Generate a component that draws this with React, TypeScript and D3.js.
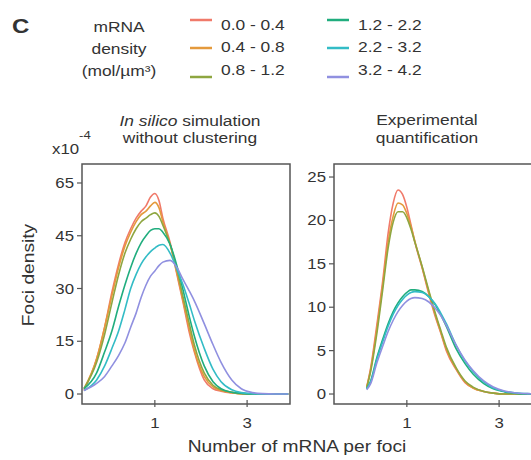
import * as d3 from "d3";

// x grid (number of mRNA per foci) for each panel
const xSim = [0.43, 0.5, 0.55, 0.6, 0.65, 0.7, 0.75, 0.8, 0.85, 0.9, 0.95, 1.0, 1.05, 1.1, 1.2, 1.3, 1.4, 1.5, 1.6, 1.8, 2.0, 2.2, 2.5, 2.8, 3.2, 3.6, 4.2, 4.9];
const xExp = [0.62, 0.65, 0.7, 0.75, 0.8, 0.85, 0.9, 0.95, 1.0, 1.05, 1.1, 1.2, 1.3, 1.4, 1.5, 1.6, 1.8, 2.0, 2.2, 2.5, 2.8, 3.2, 3.6, 4.2, 5.0];

const categories = ["0.0 - 0.4", "0.4 - 0.8", "0.8 - 1.2", "1.2 - 2.2", "2.2 - 3.2", "3.2 - 4.2"];
const colors = ["#f07a6a", "#e49a3c", "#8ea640", "#20ad7e", "#33bcc6", "#9090e0"];

// in silico simulation, foci density x10^-4
const simValues = [
  [1, 10, 19, 29, 37, 43, 47, 50, 52, 53.5, 56, 57, 55, 50, 43, 34, 26, 18, 12, 4, 1.5, 0.8, 0.3, 0.1, 0, 0, 0, 0],
  [1.5, 10, 19, 28, 36, 42, 46, 49, 51, 52, 53.5, 54.5, 53, 49, 42.5, 34.5, 26.5, 19, 12.5, 5, 2, 1, 0.4, 0.1, 0, 0, 0, 0],
  [1.5, 9, 17, 26, 34, 40, 44, 47, 49, 50, 51, 51.5, 50.5, 48, 42.5, 35.5, 27.5, 20.5, 14, 6, 2.5, 1.2, 0.5, 0.1, 0, 0, 0, 0],
  [1.5, 6, 12, 18, 25, 31, 36, 40, 43, 45, 46.5, 47, 47, 46, 42.5, 36.5, 29.5, 22.5, 16.5, 8, 3.5, 1.5, 0.5, 0.2, 0, 0, 0, 0],
  [1, 4, 8, 13, 18, 24, 30, 34, 37, 39, 40.5, 41.5, 42.3, 42.5, 40, 35.5, 31, 26, 21, 13, 7, 3.5, 1.2, 0.4, 0.1, 0, 0, 0],
  [1, 3, 5, 8, 11, 14.5, 19, 23, 27.5, 31, 33.5, 35, 36.5, 37.5, 38, 36, 32.5, 29.5, 26.5, 20, 14, 9, 4, 1.5, 0.4, 0.1, 0, 0],
];

// experimental quantification
const expValues = [
  [0.8, 3, 8, 13, 18.5, 22, 23.5, 23, 21.5, 19.5, 17.5, 14.5, 11.5, 9, 7, 5, 2.8, 1.3, 0.7, 0.3, 0.1, 0, 0, 0, 0],
  [0.8, 2.8, 7.5, 12.5, 17.5, 20.5, 22, 21.8, 20.8, 19.3, 17.6, 14.6, 11.7, 9.2, 7.1, 5.2, 2.9, 1.4, 0.7, 0.3, 0.1, 0, 0, 0, 0],
  [0.7, 2.6, 7, 12, 16.8, 19.8, 21, 21, 20.3, 19, 17.5, 14.7, 11.9, 9.4, 7.3, 5.4, 3, 1.5, 0.8, 0.3, 0.1, 0, 0, 0, 0],
  [0.6, 1.5, 4.2, 6.3, 8.1, 9.5, 10.5, 11.2, 11.7, 12, 12, 11.8, 11.2, 10.3, 9.1, 7.8, 5.2, 3.5, 2.3, 1.2, 0.6, 0.25, 0.1, 0, 0],
  [0.6, 1.4, 4, 6, 7.8, 9.2, 10.2, 10.9, 11.4, 11.7, 11.8, 11.7, 11.2, 10.4, 9.3, 8.1, 5.6, 3.8, 2.6, 1.4, 0.7, 0.3, 0.15, 0.05, 0],
  [0.5, 1.2, 3.6, 5.5, 7.2, 8.5, 9.5, 10.2, 10.7, 11, 11.1, 11, 10.6, 9.9, 9, 7.9, 5.6, 3.9, 2.7, 1.5, 0.8, 0.35, 0.15, 0.05, 0],
];

const xTicks = [1, 3];
const simYTicks = [0, 15, 30, 45, 60];
const simYTickLabels = ["0", "15", "30", "45", "65"];
const expYTicks = [0, 5, 10, 15, 20, 25];

const font = "'Liberation Sans', Arial, sans-serif";
const textColor = "#333";
const SX = 1.2; // text in the figure is drawn wide

function T({ x, y, size, anchor = "start", children, weight = "normal", style = "normal", rotate = 0 }: any) {
  return (
    <text
      transform={`translate(${x},${y}) rotate(${rotate}) scale(${SX},1)`}
      fontSize={size}
      textAnchor={anchor}
      fontWeight={weight}
      fontStyle={style}
      fill={textColor}
      fontFamily={font}
    >
      {children}
    </text>
  );
}

function Panel({ id, left, xs, values, yDomain, yTicks, yLabels }: any) {
  const top = 164;
  const bottom = 404;
  const width = 208;
  const x = d3.scaleLog().domain([0.42, 5.0]).range([left, left + width]);
  const y = d3.scaleLinear().domain(yDomain).range([bottom, top]);
  const line = d3
    .line<number>()
    .x((_, i) => x(xs[i]))
    .y((d) => y(d))
    .curve(d3.curveMonotoneX);

  return (
    <g>
      <defs>
        <clipPath id={id}>
          <rect x={left} y={top} width={width} height={bottom - top} />
        </clipPath>
      </defs>
      <g clipPath={`url(#${id})`}>
        {values.map((s: number[], i: number) => (
          <path key={i} d={line(s)!} fill="none" stroke={colors[i]} strokeWidth={1.6} />
        ))}
      </g>
      <rect x={left} y={top} width={width} height={bottom - top} fill="none" stroke="#555" strokeWidth={1.5} />
      {yTicks.map((t: number, i: number) => (
        <g key={t}>
          <line x1={left - 5} x2={left} y1={y(t)} y2={y(t)} stroke="#555" strokeWidth={1.2} />
          <T x={left - 8} y={y(t) + 5} size={14} anchor="end">
            {yLabels ? yLabels[i] : String(t)}
          </T>
        </g>
      ))}
      {xTicks.map((t) => (
        <g key={t}>
          <line x1={x(t)} x2={x(t)} y1={bottom - 4} y2={bottom + 3} stroke="#555" strokeWidth={1.2} />
          <T x={x(t)} y={428} size={14} anchor="middle">
            {String(t)}
          </T>
        </g>
      ))}
    </g>
  );
}

export default function App() {
  const legendLineY = [20, 48, 77];
  const legendTextY = [30, 52, 75];

  return (
    <svg width={531} height={460} style={{ position: "absolute", left: 0, top: 0, background: "#fff" }}>
      <T x={12} y={33} size={20} weight="bold">C</T>

      {/* legend */}
      <T x={119} y={32} size={14.5} anchor="middle">mRNA</T>
      <T x={119} y={54} size={14.5} anchor="middle">density</T>
      <T x={119} y={76} size={14.5} anchor="middle">(mol/µm³)</T>
      {categories.map((c, i) => {
        const col = Math.floor(i / 3);
        const row = i % 3;
        const lx = col === 0 ? 190 : 327;
        return (
          <g key={c}>
            <line x1={lx} x2={lx + 22} y1={legendLineY[row]} y2={legendLineY[row]} stroke={colors[i]} strokeWidth={2.5} />
            <T x={lx + 31} y={legendTextY[row]} size={14.5}>
              {c}
            </T>
          </g>
        );
      })}

      {/* panel titles */}
      <T x={190} y={126} size={14.5} anchor="middle">
        <tspan fontStyle="italic">In silico</tspan> simulation
      </T>
      <T x={190} y={143} size={14.5} anchor="middle">without clustering</T>
      <T x={427} y={125} size={14.5} anchor="middle">Experimental</T>
      <T x={427} y={143} size={14.5} anchor="middle">quantification</T>

      <T x={52} y={154} size={14}>x10</T>
      <T x={79} y={139} size={11}>-4</T>

      <Panel id="clipSim" left={82} xs={xSim} values={simValues} yDomain={[-2.84, 65.4]} yTicks={simYTicks} yLabels={simYTickLabels} />
      <Panel id="clipExp" left={334} xs={xExp} values={expValues} yDomain={[-1.15, 26.5]} yTicks={expYTicks} />

      <T x={297} y={452} size={16} anchor="middle">Number of mRNA per foci</T>
      <T x={34} y={275} size={16} anchor="middle" rotate={-90}>Foci density</T>
    </svg>
  );
}
